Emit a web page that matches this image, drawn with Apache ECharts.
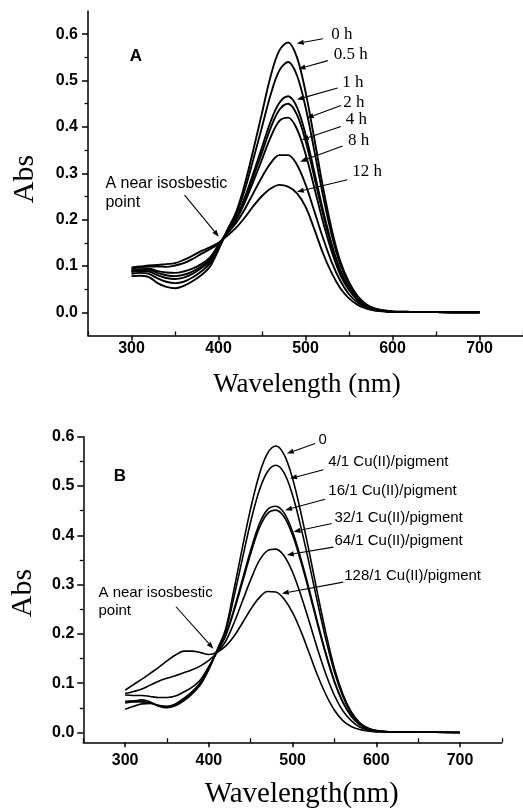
<!DOCTYPE html>
<html><head><meta charset="utf-8">
<script src="https://cdn.jsdelivr.net/npm/echarts@6/dist/echarts.min.js"></script>
<style>html,body{margin:0;padding:0;background:#fff}#c{width:523px;height:808px}</style>
</head><body><div id="c"></div>
<script>
// ---------- DATA ----------
const wavelengths = [300,310,320,330,340,350,360,370,380,390,400,410,420,430,440,450,460,470,480,490,500,510,520,530,540,550,560,570,580,590,600,620,650,700];

// Panel A: time series
const namesA = ['0 h','0.5 h','1 h','2 h','4 h','8 h','12 h'];
const absA_0h  = [0.078,0.079,0.076,0.063,0.055,0.052,0.057,0.067,0.080,0.098,0.135, 0.177,0.215,0.275,0.350,0.430,0.510,0.565,0.582,0.551,0.476,0.376,0.271,0.180,0.110,0.065,0.035,0.017,0.008,0.004,0.002, 0.001,0.0005,0];
const absA_05h = [0.083,0.085,0.083,0.073,0.066,0.063,0.066,0.075,0.088,0.105,0.138, 0.176,0.210,0.263,0.330,0.400,0.470,0.522,0.540,0.512,0.443,0.350,0.253,0.168,0.103,0.061,0.033,0.016,0.008,0.004,0.002, 0.001,0.0005,0];
const absA_1h  = [0.087,0.089,0.088,0.080,0.074,0.072,0.075,0.083,0.095,0.110,0.141, 0.174,0.203,0.247,0.300,0.356,0.412,0.452,0.466,0.443,0.384,0.304,0.221,0.148,0.091,0.054,0.029,0.014,0.007,0.003,0.001, 0.001,0.0005,0];
const absA_2h  = [0.089,0.091,0.091,0.085,0.080,0.078,0.081,0.088,0.099,0.114,0.143, 0.173,0.200,0.242,0.292,0.345,0.398,0.437,0.450,0.427,0.370,0.293,0.213,0.143,0.088,0.052,0.028,0.014,0.007,0.003,0.001, 0.001,0.0005,0];
const absA_4h  = [0.091,0.093,0.094,0.089,0.086,0.085,0.088,0.094,0.104,0.118,0.145, 0.172,0.198,0.236,0.282,0.330,0.378,0.413,0.420,0.396,0.342,0.270,0.196,0.132,0.081,0.048,0.026,0.013,0.006,0.003,0.001, 0.001,0.0005,0];
const absA_8h  = [0.094,0.097,0.099,0.099,0.098,0.101,0.106,0.115,0.126,0.136,0.148, 0.170,0.192,0.222,0.257,0.292,0.322,0.339,0.339,0.319,0.276,0.219,0.161,0.109,0.068,0.039,0.021,0.010,0.0045,0.002,0.001, 0.001,0.0005,0];
const absA_12h = [0.097,0.099,0.101,0.102,0.104,0.106,0.113,0.122,0.132,0.140,0.150, 0.165,0.182,0.204,0.229,0.251,0.267,0.275,0.271,0.257,0.228,0.180,0.128,0.085,0.052,0.030,0.016,0.008,0.004,0.002,0.001, 0.001,0.0005,0];

// Panel B: Cu(II)/pigment ratio series
const namesB = ['0','4/1 Cu(II)/pigment','16/1 Cu(II)/pigment','32/1 Cu(II)/pigment','64/1 Cu(II)/pigment','128/1 Cu(II)/pigment'];
const absB_0   = [0.060,0.062,0.062,0.060,0.053,0.050,0.054,0.064,0.078,0.097,0.128, 0.168,0.210,0.290,0.375,0.455,0.522,0.566,0.581,0.563,0.515,0.445,0.365,0.280,0.200,0.130,0.078,0.042,0.020,0.009,0.004, 0.001,0.0005,0];
const absB_4   = [0.047,0.053,0.058,0.059,0.055,0.052,0.056,0.066,0.080,0.099,0.130, 0.167,0.205,0.275,0.352,0.428,0.490,0.529,0.542,0.526,0.481,0.416,0.341,0.262,0.187,0.122,0.073,0.039,0.019,0.008,0.004, 0.001,0.0005,0];
const absB_16  = [0.063,0.064,0.066,0.062,0.054,0.053,0.058,0.069,0.083,0.102,0.132, 0.165,0.198,0.250,0.310,0.370,0.422,0.452,0.459,0.445,0.407,0.352,0.289,0.222,0.159,0.104,0.062,0.034,0.016,0.007,0.003, 0.001,0.0005,0];
const absB_32  = [0.076,0.075,0.075,0.073,0.071,0.071,0.074,0.082,0.092,0.107,0.134, 0.164,0.196,0.246,0.304,0.363,0.414,0.444,0.451,0.437,0.400,0.346,0.284,0.218,0.156,0.102,0.061,0.033,0.016,0.007,0.003, 0.001,0.0005,0];
const absB_64  = [0.079,0.083,0.088,0.096,0.104,0.110,0.115,0.121,0.127,0.135,0.146, 0.162,0.185,0.222,0.266,0.310,0.348,0.369,0.372,0.358,0.325,0.278,0.224,0.168,0.117,0.075,0.044,0.024,0.011,0.005,0.002, 0.001,0.0005,0];
const absB_128 = [0.086,0.097,0.108,0.120,0.132,0.145,0.157,0.165,0.165,0.162,0.158, 0.163,0.175,0.195,0.222,0.250,0.273,0.286,0.285,0.270,0.243,0.205,0.160,0.115,0.076,0.045,0.024,0.012,0.006,0.003,0.001, 0.001,0.0005,0];

// Axis ticks
const xTickValues = [300,400,500,600,700];
const xMinorValues = [250,350,450,550,650,750];
const yTickValues = [0,0.1,0.2,0.3,0.4,0.5,0.6];
const yMinorValuesA = [0.05,0.15,0.25,0.35,0.45,0.55];
const yMinorValuesB = [0.05,0.15,0.25,0.35,0.45,0.55];

// Annotations (data coordinates): label anchor, arrow tail, arrow tip
const annA_text = [[529.5,0.599],[532.4,0.556],[542.2,0.495],[543.3,0.453],[546.3,0.415],[548.9,0.371],[553.8,0.304]];
const annA_tail = [[520,0.590],[525.6,0.543],[536.9,0.484],[540.7,0.446],[540.7,0.401],[542.5,0.359],[548.1,0.286]];
const annA_tip  = [[490,0.580],[491.9,0.525],[490.1,0.459],[501.4,0.419],[495.7,0.372],[493.8,0.325],[490.1,0.260]];
const annB_text = [[530.8,0.594],[542.7,0.549],[542.7,0.491],[549.9,0.436],[549.9,0.389],[561.7,0.317]];
const annB_tail = [[526.9,0.586],[536.8,0.533],[538.8,0.473],[546.8,0.424],[548.7,0.376],[560.5,0.305]];
const annB_tip  = [[493.1,0.566],[497.0,0.515],[491.0,0.451],[501.0,0.407],[493.1,0.360],[487.1,0.282]];
const isoText = 'A near isosbestic\npoint';
const isoA = {text:[270,0.277], tail:[361,0.253], tip:[400.4,0.163]};
const isoB = {text:[268.1,0.283], tail:[360.7,0.255], tip:[405.4,0.170]};

// ---------- CHART ----------
const seriesA = [absA_0h,absA_05h,absA_1h,absA_2h,absA_4h,absA_8h,absA_12h];
const seriesB = [absB_0,absB_4,absB_16,absB_32,absB_64,absB_128];
const pair = arr => wavelengths.map((w,i)=>[w,arr[i]]);

const SANS = '"Liberation Sans", Arial, sans-serif';
const SERIF = '"Liberation Serif", "Times New Roman", serif';
const BLACK = '#000';

function mainX(grid){
  return {gridIndex:grid, type:'value', min:250, max:750, position:'bottom',
    axisLine:{show:true, onZero:false, lineStyle:{color:BLACK,width:1.5}},
    axisTick:{show:true, inside:false, length:5, customValues:xTickValues, lineStyle:{color:BLACK,width:1.5}},
    axisLabel:{show:true, customValues:xTickValues, margin: grid===0?5:10, color:BLACK, fontFamily:SANS, fontWeight:'bold', fontSize:16},
    splitLine:{show:false}};
}
function minorX(grid){
  return {gridIndex:grid, type:'value', min:250, max:750, position:'bottom',
    axisLine:{show:false, onZero:false},
    axisTick:{show:true, inside:true, length:4, customValues:xMinorValues, lineStyle:{color:BLACK,width:1.3}},
    axisLabel:{show:false}, splitLine:{show:false}};
}
function mainY(grid,min,max){
  return {gridIndex:grid, type:'value', min:min, max:max, position:'left',
    axisLine:{show:true, onZero:false, lineStyle:{color:BLACK,width:1.5}},
    axisTick:{show:true, inside:false, length:6, customValues:yTickValues, lineStyle:{color:BLACK,width:1.5}},
    axisLabel:{show:true, customValues:yTickValues, margin: grid===0?10:9, color:BLACK, fontFamily:SANS, fontWeight:'bold', fontSize:16,
      formatter:v=>Number(v).toFixed(1)},
    splitLine:{show:false}};
}
function minorY(grid,min,max,vals){
  return {gridIndex:grid, type:'value', min:min, max:max, position:'left',
    axisLine:{show:false, onZero:false},
    axisTick:{show:true, inside:false, length:3.5, customValues:vals, lineStyle:{color:BLACK,width:1.3}},
    axisLabel:{show:false}, splitLine:{show:false}};
}

const series = [];
seriesA.forEach((arr,i)=>series.push({name:namesA[i], type:'line', xAxisIndex:0, yAxisIndex:0, data:pair(arr),
  showSymbol:false, smooth:0.35, lineStyle:{color:BLACK,width:1.9}, itemStyle:{color:BLACK}, silent:true}));
seriesB.forEach((arr,i)=>series.push({name:namesB[i], type:'line', xAxisIndex:2, yAxisIndex:2, data:pair(arr),
  showSymbol:false, smooth:0.35, lineStyle:{color:BLACK,width:1.6}, itemStyle:{color:BLACK}, silent:true}));

const chart = echarts.init(document.getElementById('c'), null, {renderer:'canvas'});
chart.setOption({
  animation:false,
  backgroundColor:'#fff',
  grid:[
    {left:88, top:11, width:444.5, height:324.5},
    {left:83.3, top:436.7, width:418.6, height:305.6}
  ],
  xAxis:[mainX(0), minorX(0), mainX(1), minorX(1)],
  yAxis:[mainY(0,-0.05,0.65), minorY(0,-0.05,0.65,yMinorValuesA), mainY(1,-0.02,0.6), minorY(1,-0.02,0.6,yMinorValuesB)],
  series:series
});

// ---------- ANNOTATIONS ----------
const g = [];
function px(seriesIndex, p){ return chart.convertToPixel({seriesIndex:seriesIndex}, p); }
function addArrow(si, tail, tip){
  const a = px(si, tail), b = px(si, tip);
  const dx=b[0]-a[0], dy=b[1]-a[1], len=Math.hypot(dx,dy), ux=dx/len, uy=dy/len;
  const L=7, W=2.6;
  const base=[b[0]-ux*L, b[1]-uy*L];
  g.push({type:'line', z:50, silent:true, shape:{x1:a[0],y1:a[1],x2:base[0],y2:base[1]}, style:{stroke:BLACK,lineWidth:1.1}});
  g.push({type:'polygon', z:50, silent:true, shape:{points:[b,[base[0]-uy*W, base[1]+ux*W],[base[0]+uy*W, base[1]-ux*W]]}, style:{fill:BLACK}});
}
function addText(si, p, text, font, size, weight){
  const q = px(si, p);
  g.push({type:'text', z:50, silent:true, x:q[0], y:q[1], style:{text:text, fill:BLACK, font:(weight||'normal')+' '+size+'px '+font, textAlign:'left', textVerticalAlign:'middle'}});
}
namesA.forEach((n,i)=>{ addArrow(0, annA_tail[i], annA_tip[i]); addText(0, annA_text[i], n, SERIF, 17); });
namesB.forEach((n,i)=>{ addArrow(7, annB_tail[i], annB_tip[i]); addText(7, annB_text[i], n, SANS, 15); });
(function(){
  let q = px(0, isoA.text);
  g.push({type:'text', z:50, silent:true, x:q[0], y:q[1]-9.5, style:{text:isoText, fill:BLACK, font:'normal 16px '+SANS, lineHeight:19, textAlign:'left', textVerticalAlign:'top'}});
  addArrow(0, isoA.tail, isoA.tip);
  q = px(7, isoB.text);
  g.push({type:'text', z:50, silent:true, x:q[0], y:q[1]-9, style:{text:isoText, fill:BLACK, font:'normal 15px '+SANS, lineHeight:18, textAlign:'left', textVerticalAlign:'top'}});
  addArrow(7, isoB.tail, isoB.tip);
})();
g.push({type:'text', z:50, silent:true, x:136, y:56, style:{text:'A', fill:BLACK, font:'bold 17px '+SANS, textAlign:'center', textVerticalAlign:'middle'}});
g.push({type:'text', z:50, silent:true, x:120, y:476, style:{text:'B', fill:BLACK, font:'bold 17px '+SANS, textAlign:'center', textVerticalAlign:'middle'}});
g.push({type:'text', z:50, silent:true, x:307, y:385, style:{text:'Wavelength (nm)', fill:BLACK, font:'normal 27px '+SERIF, textAlign:'center', textVerticalAlign:'middle'}});
g.push({type:'text', z:50, silent:true, x:301.7, y:794, style:{text:'Wavelength(nm)', fill:BLACK, font:'normal 29px '+SERIF, textAlign:'center', textVerticalAlign:'middle'}});
g.push({type:'text', z:50, silent:true, x:25, y:179, rotation:Math.PI/2, style:{text:'Abs', fill:BLACK, font:'normal 30px '+SERIF, textAlign:'center', textVerticalAlign:'middle'}});
g.push({type:'text', z:50, silent:true, x:22.7, y:593, rotation:Math.PI/2, style:{text:'Abs', fill:BLACK, font:'normal 30px '+SERIF, textAlign:'center', textVerticalAlign:'middle'}});

chart.setOption({graphic:g});
</script>
</body></html>
